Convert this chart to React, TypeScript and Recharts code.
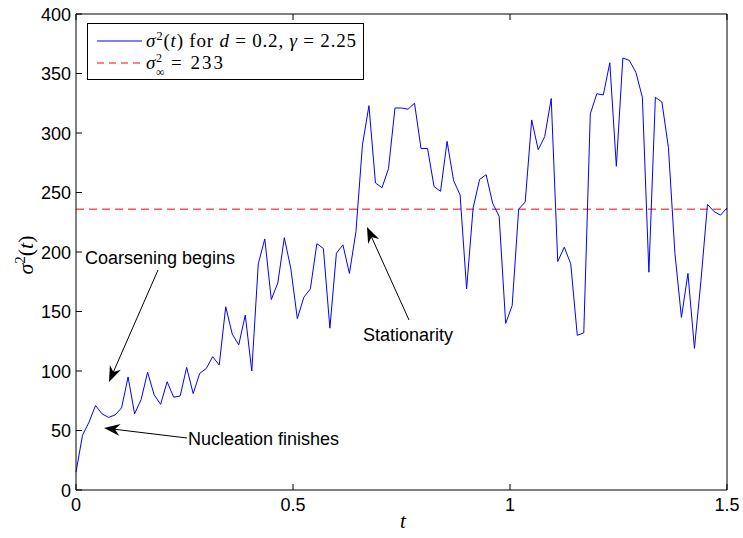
import { Line, LineChart, ReferenceLine, XAxis, YAxis } from "recharts"

// sigma^2(t), sampled every dt from t = 0 to 1.5
const dt = 0.015
const sigma2 = [
  15, 46, 57, 71, 64, 61, 63, 69, 95, 64,
  76, 99, 80, 72, 91, 78, 79, 103, 81, 98,
  102, 112, 105, 154, 131, 122, 147, 100, 190, 211,
  160, 174, 212, 186, 144, 162, 169, 207, 203, 136,
  199, 206, 182, 217, 290, 323, 258, 254, 270, 321,
  321, 320, 325, 287, 287, 255, 251, 293, 260, 248,
  169, 237, 261, 265, 241, 230, 140, 155, 236, 242,
  311, 286, 297, 329, 192, 204, 190, 130, 132, 316,
  333, 332, 359, 272, 363, 361, 351, 330, 183, 330,
  326, 288, 199, 145, 182, 119, 176, 240, 234, 231,
  237,
]
const sigmaInfLine = 236
const xTicks = [0, 0.5, 1, 1.5]
const yTicks = [0, 50, 100, 150, 200, 250, 300, 350, 400]

const data = sigma2.map((v, i) => ({ t: Math.round(i * dt * 1000) / 1000, s: v }))

const sans = "'Liberation Sans', Arial, Helvetica, sans-serif"
const serif = "'Liberation Serif', 'Times New Roman', serif"
const TICK = 6

// matlab-style ticks: marks point into the plot box
const BottomTick = (p: any) => (
  <g>
    <line x1={p.x} y1={p.y} x2={p.x} y2={p.y - TICK} stroke="#000" />
    <text x={p.x} y={p.y + 21} textAnchor="middle" fontSize={18} fontFamily={sans} fill="#000">
      {p.payload.value}
    </text>
  </g>
)
const LeftTick = (p: any) => (
  <g>
    <line x1={p.x + 5} y1={p.y} x2={p.x + 5 + TICK} y2={p.y} stroke="#000" />
    <text x={p.x} y={p.y + 6.5} textAnchor="end" fontSize={18} fontFamily={sans} fill="#000">
      {p.payload.value}
    </text>
  </g>
)
const TopTick = (p: any) => <line x1={p.x} y1={p.y} x2={p.x} y2={p.y + TICK} stroke="#000" />
const RightTick = (p: any) => <line x1={p.x - TICK} y1={p.y} x2={p.x} y2={p.y} stroke="#000" />

function Arrow({ from, to }: { from: [number, number]; to: [number, number] }) {
  const [x1, y1] = from
  const [x2, y2] = to
  const len = Math.hypot(x2 - x1, y2 - y1)
  const ux = (x2 - x1) / len
  const uy = (y2 - y1) / len
  const L = 16, W = 6, N = 11
  const bx = x2 - ux * L
  const by = y2 - uy * L
  const pts = [
    [x2, y2],
    [bx - uy * W, by + ux * W],
    [x2 - ux * N, y2 - uy * N],
    [bx + uy * W, by - ux * W],
  ]
  return (
    <g>
      <line x1={x1} y1={y1} x2={x2 - ux * N} y2={y2 - uy * N} stroke="#000" strokeWidth={1} />
      <polygon points={pts.map((p) => p.join(",")).join(" ")} fill="#000" />
    </g>
  )
}

export default function App() {
  return (
    <div style={{ position: "absolute", left: 0, top: 0, width: 743, height: 538, background: "#fff" }}>
      <LineChart width={743} height={538} data={data} margin={{ top: 13, right: 15, bottom: 0, left: 0 }}>
        <XAxis
          dataKey="t"
          type="number"
          domain={[0, 1.5]}
          ticks={xTicks}
          interval={0}
          height={48}
          tickSize={0}
          tickMargin={0}
          tickLine={false}
          stroke="#000"
          tick={BottomTick}
        />
        <XAxis
          xAxisId="top"
          orientation="top"
          dataKey="t"
          type="number"
          domain={[0, 1.5]}
          ticks={xTicks}
          interval={0}
          height={1}
          tickSize={0}
          tickMargin={0}
          tickLine={false}
          stroke="#000"
          tick={TopTick}
        />
        <YAxis
          type="number"
          domain={[0, 400]}
          ticks={yTicks}
          interval={0}
          width={76}
          tickSize={0}
          tickMargin={5}
          tickLine={false}
          stroke="#000"
          tick={LeftTick}
        />
        <YAxis
          yAxisId="right"
          orientation="right"
          type="number"
          domain={[0, 400]}
          ticks={yTicks}
          interval={0}
          width={1}
          tickSize={0}
          tickMargin={0}
          tickLine={false}
          stroke="#000"
          tick={RightTick}
        />
        <ReferenceLine y={sigmaInfLine} stroke="#ff0000" strokeDasharray="8 5" />
        <Line dataKey="s" stroke="#0000ff" strokeWidth={1} dot={false} isAnimationActive={false} />
      </LineChart>

      <svg width={743} height={538} style={{ position: "absolute", left: 0, top: 0, pointerEvents: "none" }}>
        {/* legend */}
        <rect x={87.5} y={23.5} width={276} height={56} fill="#fff" stroke="#000" />
        <line x1={97} y1={41} x2={142} y2={41} stroke="#0000ff" />
        <line x1={97} y1={63} x2={142} y2={63} stroke="#ff0000" strokeDasharray="7 5" />
        <text x={146} y={47} fontFamily={serif} fontSize={19} textLength={210} lengthAdjust="spacing">
          <tspan fontStyle="italic">σ</tspan>
          <tspan dy={-7} fontSize={13}>2</tspan>
          <tspan dy={7}>(</tspan>
          <tspan fontStyle="italic">t</tspan>
          <tspan>{") for "}</tspan>
          <tspan fontStyle="italic">d</tspan>
          <tspan>{" = 0.2, "}</tspan>
          <tspan fontStyle="italic">γ</tspan>
          <tspan>{" = 2.25"}</tspan>
        </text>
        <text x={146} y={69} fontFamily={serif} fontSize={19}>
          <tspan fontStyle="italic">σ</tspan>
          <tspan x={156} dy={-7} fontSize={12}>2</tspan>
          <tspan x={156} dy={14} fontSize={12}>∞</tspan>
          <tspan x={171} dy={-7} textLength={52} lengthAdjust="spacing">{"= 233"}</tspan>
        </text>

        {/* axis labels */}
        <text x={403} y={528} fontFamily={serif} fontSize={21} fontStyle="italic" textAnchor="middle">t</text>
        <text transform="translate(33,255) rotate(-90)" fontFamily={serif} fontSize={22} textAnchor="middle">
          <tspan fontStyle="italic">σ</tspan>
          <tspan dy={-8} fontSize={15}>2</tspan>
          <tspan dy={8}>(</tspan>
          <tspan fontStyle="italic">t</tspan>
          <tspan>)</tspan>
        </text>

        {/* annotations */}
        <text x={85} y={264} fontFamily={sans} fontSize={18}>Coarsening begins</text>
        <Arrow from={[158, 270]} to={[109, 382]} />
        <text x={188} y={445} fontFamily={sans} fontSize={18}>Nucleation finishes</text>
        <Arrow from={[187, 438]} to={[104, 428]} />
        <text x={363} y={341} fontFamily={sans} fontSize={18}>Stationarity</text>
        <Arrow from={[409, 320]} to={[367, 227]} />
      </svg>
    </div>
  )
}
